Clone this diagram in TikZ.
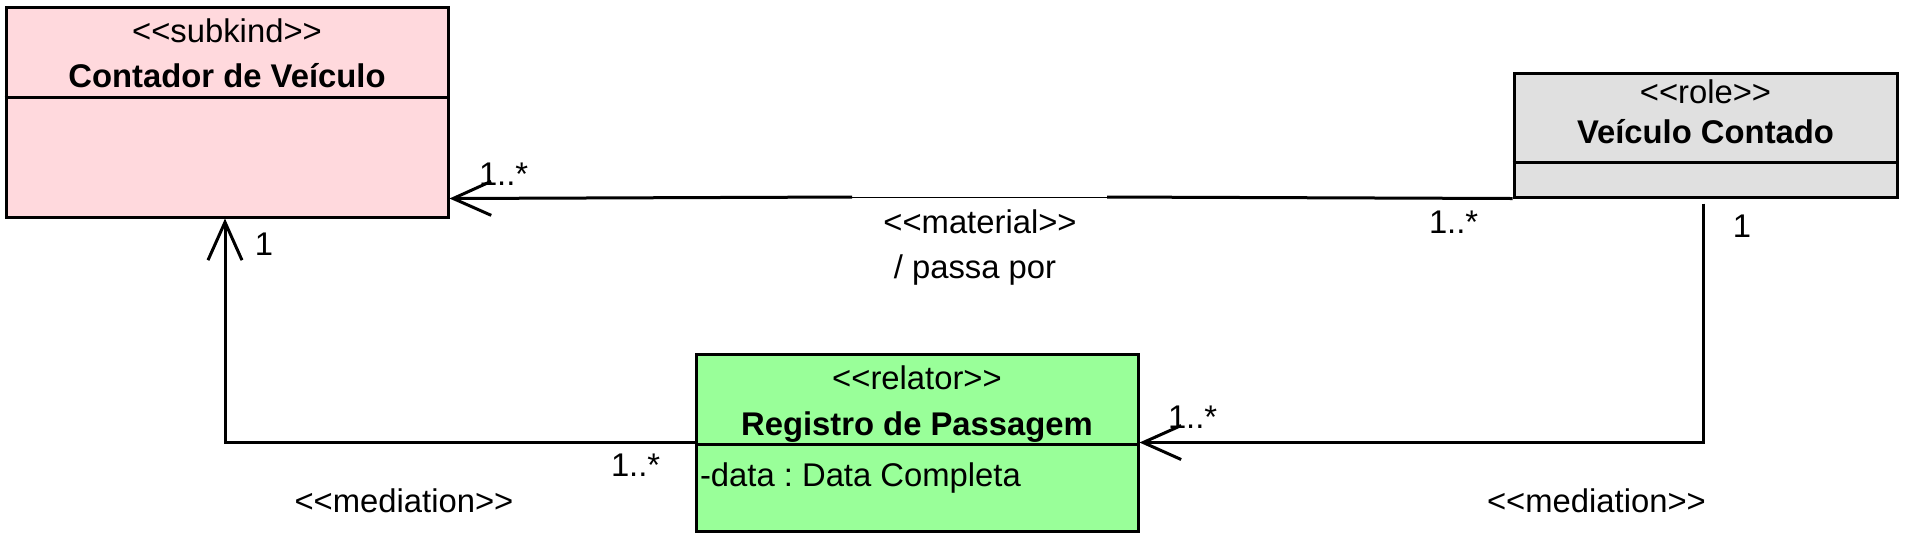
\documentclass[tikz,border=0pt]{standalone}
\usepackage{fontspec}
\setmainfont{Liberation Sans}[Ligatures=TeXOff]
\usetikzlibrary{arrows.meta}
\definecolor{pinkc}{RGB}{255,217,221}
\definecolor{greenc}{RGB}{153,255,153}
\definecolor{grayc}{RGB}{224,224,224}
\frenchspacing
\begin{document}
\begin{tikzpicture}[x=0.5pt,y=-0.5pt,
  font=\fontsize{16.4pt}{19pt}\selectfont,
  classbox/.style={draw=black,line width=1.5pt,inner sep=0pt,rectangle},
  divline/.style={draw=black,line width=1.5pt},
  assoc/.style={draw=black,line width=1.5pt},
  thinassoc/.style={draw=black,line width=0.5pt},
  opentip/.style={-{Straight Barb[length=19pt,width=17pt,line width=1.5pt]}},
  lbl/.style={inner sep=0pt,outer sep=0pt},
  boldlbl/.style={inner sep=0pt,outer sep=0pt,font=\fontsize{16.4pt}{19pt}\selectfont\bfseries}]
\useasboundingbox (0,0) rectangle (1908,543);

% classes
\node[classbox,fill=pinkc,minimum width=221pt,minimum height=105pt] (contador) at (227,112) {};
\node[classbox,fill=grayc,minimum width=191.5pt,minimum height=62pt] (veiculo) at (1705.5,135) {};
\node[classbox,fill=greenc,minimum width=221pt,minimum height=88.5pt] (registro) at (917,442.5) {};

\draw[divline] (contador.west |- 0,97) -- (contador.east |- 0,97);
\draw[divline] (veiculo.west |- 0,162) -- (veiculo.east |- 0,162);
\draw[divline] (registro.west |- 0,444) -- (registro.east |- 0,444);

\node[lbl,anchor=base] (cst) at (227,42) {<<subkind>>};
\node[boldlbl,anchor=base] (cname) at (227,87) {Contador de Veículo};
\node[lbl,anchor=base] (vst) at (1705.5,103) {<<role>>};
\node[boldlbl,anchor=base] (vname) at (1705.5,143) {Veículo Contado};
\node[lbl,anchor=base] (rst) at (917,389) {<<relator>>};
\node[boldlbl,anchor=base] (rname) at (917,435) {Registro de Passagem};
\node[lbl,anchor=base west] (rattr) at (700,486) {-data : Data Completa};

% material association
\coordinate (m1) at (1107,197);
\coordinate (m2) at (852,197);
\draw[assoc] (veiculo.south west) -- (m1);
\draw[thinassoc] (m1) -- (m2);
\draw[assoc,opentip] (m2) -- (contador.east |- veiculo.south west);

% mediation left
\draw[assoc,opentip] (registro.west) -| ([xshift=-1pt]contador.south);
% mediation right
\draw[assoc,opentip] ([xshift=-1.25pt,yshift=-2.5pt]veiculo.south) |- (registro.east);

% labels
\node[lbl,anchor=base west] (mc1) at (479,185) {1..*};
\node[lbl,anchor=base west] (mc2) at (1429,233) {1..*};
\node[lbl,anchor=base] (mat) at (980,233) {<<material>>};
\node[lbl,anchor=base] (pas) at (975,278) {/ passa por};
\node[lbl,anchor=base] (ml1) at (264,255) {1};
\node[lbl,anchor=base west] (ml2) at (611,476) {1..*};
\node[lbl,anchor=base] (med1) at (404,512) {<<mediation>>};
\node[lbl,anchor=base] (mr1) at (1742,237) {1};
\node[lbl,anchor=base west] (mr2) at (1168,428) {1..*};
\node[lbl,anchor=base west] (med2) at (1487,512) {<<mediation>>};
\end{tikzpicture}
\end{document}
